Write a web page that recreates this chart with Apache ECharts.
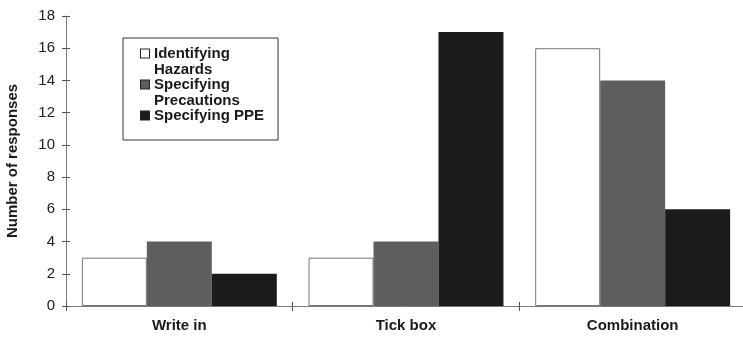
<!DOCTYPE html>
<html>
<head>
<meta charset="utf-8">
<script src="https://cdn.jsdelivr.net/npm/echarts@6/dist/echarts.min.js"></script>
<style>
html,body{margin:0;padding:0;background:#fff;}
#chart{width:743px;height:338px;}
</style>
</head>
<body>
<div id="chart"></div>
<script>
const categories = ['Write in', 'Tick box', 'Combination'];
const seriesNames = ['Identifying Hazards', 'Specifying Precautions', 'Specifying PPE'];
const legendLines = [['Identifying', 'Hazards'], ['Specifying', 'Precautions'], ['Specifying PPE']];
const identifyingHazards = [3, 3, 16];
const specifyingPrecautions = [4, 4, 14];
const specifyingPPE = [2, 17, 6];
const yMin = 0, yMax = 18, yInterval = 2;

const FONT = '"Liberation Sans", Arial, sans-serif';
const colors = ['#ffffff', '#5e5e5e', '#1b1b1b'];
const boxKeys = ['b0', 'b1', 'b2'];

const chart = echarts.init(document.getElementById('chart'), null, {renderer: 'canvas'});

const seriesValues = [identifyingHazards, specifyingPrecautions, specifyingPPE];

const yAxisBase = {
  type: 'value', min: yMin, max: yMax, interval: yInterval,
  splitLine: {show: false}
};

const option = {
  backgroundColor: '#ffffff',
  animation: false,
  grid: {left: 66, right: -3, top: 16, bottom: 32, containLabel: false, outerBoundsMode: 'none'},
  legend: {
    orient: 'vertical',
    left: 123, top: 38,
    padding: [8, 14, 17, 12],
    itemGap: 0,
    itemWidth: 0, itemHeight: 0,
    borderColor: '#333', borderWidth: 1,
    backgroundColor: '#fff',
    data: seriesNames,
    formatter: function (name) {
      const i = seriesNames.indexOf(name);
      const lines = legendLines[i];
      return lines.map(function (l, k) {
        return (k === 0 ? '{' + boxKeys[i] + '|}{g|}' : '{sp|}') + '{t|' + l + '}';
      }).join('\n');
    },
    textStyle: {
      rich: {
        t: {fontFamily: FONT, fontWeight: 'bold', fontSize: 15, lineHeight: 16, color: '#1a1a1a'},
        sp: {width: 13, height: 8},
        g: {width: 5, height: 8},
        b0: {width: 8, height: 8, backgroundColor: '#fff', borderColor: '#222', borderWidth: 1},
        b1: {width: 8, height: 8, backgroundColor: colors[1], borderColor: '#222', borderWidth: 1},
        b2: {width: 8, height: 8, backgroundColor: colors[2], borderColor: '#222', borderWidth: 1}
      }
    }
  },
  xAxis: [{
    type: 'category',
    data: categories,
    position: 'bottom',
    axisLine: {lineStyle: {color: '#7a7a7a', width: 1}},
    axisTick: {show: true, interval: 0, length: 5, lineStyle: {color: '#555'}},
    axisLabel: {interval: 0, margin: 12, fontFamily: FONT, fontWeight: 'bold', fontSize: 15, color: '#1a1a1a'}
  }, {
    type: 'category',
    data: categories,
    position: 'bottom',
    axisLine: {show: false},
    axisTick: {show: true, inside: true, interval: 0, length: 4, lineStyle: {color: '#555'}},
    axisLabel: {show: false}
  }],
  yAxis: [Object.assign({}, yAxisBase, {
    name: 'Number of responses',
    nameLocation: 'middle',
    nameGap: 46,
    nameMoveOverlap: false,
    nameTextStyle: {fontFamily: FONT, fontWeight: 'bold', fontSize: 15, color: '#1a1a1a'},
    axisLine: {show: true, lineStyle: {color: '#7a7a7a', width: 1}},
    axisTick: {show: true, length: 4, lineStyle: {color: '#555'}},
    axisLabel: {margin: 11, fontFamily: FONT, fontSize: 15, color: '#222'}
  }), Object.assign({}, yAxisBase, {
    position: 'left',
    axisLine: {show: false},
    axisTick: {show: true, inside: true, length: 4, lineStyle: {color: '#555'}},
    axisLabel: {show: false}
  })],
  series: seriesNames.map(function (name, i) {
    return {
      name: name,
      type: 'bar',
      xAxisIndex: 0, yAxisIndex: 0,
      data: seriesValues[i],
      barGap: '0%',
      barCategoryGap: '14%',
      itemStyle: {
        color: colors[i],
        borderColor: i === 0 ? '#777' : colors[i],
        borderWidth: i === 0 ? 1 : 0
      }
    };
  })
};

chart.setOption(option);
</script>
</body>
</html>
